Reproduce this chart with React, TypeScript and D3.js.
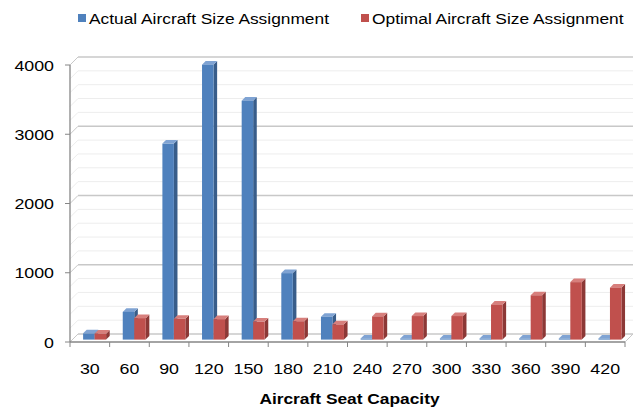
import React from "react";
import * as d3 from "d3";

const categories = ["30", "60", "90", "120", "150", "180", "210", "240", "270", "300", "330", "360", "390", "420"];
const actualValues = [90, 400, 2830, 3970, 3450, 960, 330, 15, 15, 15, 15, 15, 15, 15];
const optimalValues = [85, 310, 300, 295, 260, 265, 220, 335, 340, 340, 505, 640, 830, 750];
const yTicks = [0, 1000, 2000, 3000, 4000];
const minorStep = 200;
const seriesNames = ["Actual Aircraft Size Assignment", "Optimal Aircraft Size Assignment"];

const W = 637;
const H = 411;
const FONT = "'Liberation Sans', Arial, sans-serif";

const left = 70;
const right = 625;
const yBottom = 342;
const yTop = 65;
const DX = 8;
const DY = -8;

const colors = [
  { front: "#4F81BD", side: "#385D8A", top: "#7FA3D3" },
  { front: "#C0504D", side: "#8C3836", top: "#D77F7C" },
];

function STxt(props: { x: number; y: number; s?: number; anchor?: string; size?: number; bold?: boolean; children: any }) {
  const { x, y, s = 1.15, anchor = "start", size = 15.5, bold = false } = props;
  return (
    <g transform={`translate(${x},${y}) scale(${s},1)`}>
      <text x={0} y={0} textAnchor={anchor as any} fontFamily={FONT} fontSize={size} fontWeight={bold ? "bold" : "normal"} fill="#000">
        {props.children}
      </text>
    </g>
  );
}

export default function App() {
  const x = d3.scaleBand().domain(categories).range([left, right]).paddingInner(0).paddingOuter(0);
  const y = d3.scaleLinear().domain([0, 4000]).range([yBottom, yTop]);
  const bw = x.bandwidth();

  const minor = d3.range(0, 4000 + 1, minorStep);

  const zF = 0.3;
  const zB = 0.75;

  const bars: any[] = [];
  categories.forEach((c, i) => {
    [actualValues[i], optimalValues[i]].forEach((v, s) => {
      const x0 = (x(c) as number) + bw * 0.27 + s * bw * 0.29;
      const x1 = x0 + bw * 0.29;
      const ox = DX * zF, oy = DY * zF;
      const bx = DX * (zB - zF), by = DY * (zB - zF);
      const yb = y(0) + oy;
      const yt = y(v) + oy;
      const fx0 = x0 + ox, fx1 = x1 + ox;
      const col = colors[s];
      bars.push(
        <g key={`${c}-${s}`}>
          <polygon points={`${fx1},${yb} ${fx1 + bx},${yb + by} ${fx1 + bx},${yt + by} ${fx1},${yt}`} fill={col.side} />
          <polygon points={`${fx0},${yt} ${fx1},${yt} ${fx1 + bx},${yt + by} ${fx0 + bx},${yt + by}`} fill={col.top} />
          <rect x={fx0} y={yt} width={fx1 - fx0} height={Math.max(0, yb - yt)} fill={col.front} />
        </g>
      );
    });
  });

  return (
    <svg width={W} height={H} style={{ position: "absolute", left: 0, top: 0, background: "#fff" }}>
      {/* minor gridlines: side wall + back wall */}
      {minor.map((v) => {
        const major = v % 1000 === 0;
        const col = major ? "#C8C8C8" : "#EDEDED";
        return (
          <g key={`g${v}`}>
            <line x1={left} y1={y(v)} x2={left + DX} y2={y(v) + DY} stroke={col} strokeWidth={1} />
            <line x1={left + DX} y1={y(v) + DY} x2={right + DX} y2={y(v) + DY} stroke={col} strokeWidth={major ? 1.3 : 1} />
          </g>
        );
      })}
      {/* floor */}
      <line x1={right} y1={yBottom} x2={right + DX} y2={yBottom + DY} stroke="#C8C8C8" />
      <line x1={left} y1={yBottom} x2={left + DX} y2={yBottom + DY} stroke="#C8C8C8" />
      {bars}
      {/* axes */}
      <line x1={left} y1={yTop} x2={left} y2={yBottom} stroke="#868686" strokeWidth={1.3} />
      <line x1={left} y1={yBottom} x2={right} y2={yBottom} stroke="#868686" strokeWidth={1.3} />
      {yTicks.map((t) => (
        <line key={`yt${t}`} x1={left - 5} y1={y(t)} x2={left} y2={y(t)} stroke="#868686" />
      ))}
      {categories.map((c) => (
        <line key={`xt${c}`} x1={x(c) as number} y1={yBottom} x2={x(c) as number} y2={yBottom + 5} stroke="#868686" />
      ))}
      <line x1={right} y1={yBottom} x2={right} y2={yBottom + 5} stroke="#868686" />
      {yTicks.map((t) => (
        <STxt key={`yl${t}`} x={54} y={y(t) + 5.5} anchor="end">{String(t)}</STxt>
      ))}
      {categories.map((c) => (
        <STxt key={`xl${c}`} x={(x(c) as number) + bw / 2} y={374} anchor="middle">{c}</STxt>
      ))}
      <STxt x={(left + right) / 2 + 2} y={404} anchor="middle" bold={true} s={1.12}>Aircraft Seat Capacity</STxt>
      {/* legend */}
      <rect x={78} y={14} width={8} height={8} fill={colors[0].front} />
      <STxt x={89} y={24} s={1.12} size={15.5}>{seriesNames[0]}</STxt>
      <rect x={361} y={14} width={8} height={8} fill={colors[1].front} />
      <STxt x={372} y={24} s={1.12} size={15.5}>{seriesNames[1]}</STxt>
    </svg>
  );
}
